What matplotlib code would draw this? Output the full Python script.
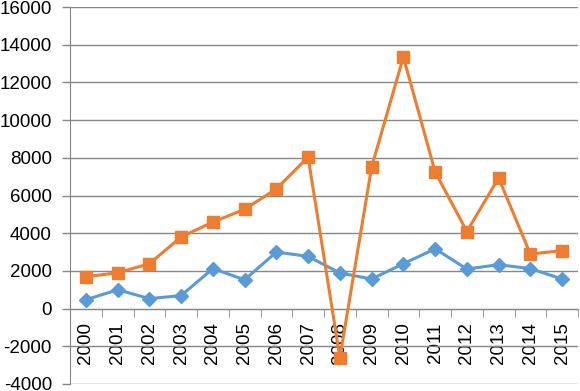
import matplotlib.pyplot as plt

# Datos
anios = [str(a) for a in range(2000, 2016)]
serie_azul = [470, 1000, 530, 690, 2120, 1530, 3000, 2770, 1890, 1570, 2380, 3170, 2100, 2330, 2120, 1570]
serie_naranja = [1690, 1900, 2380, 3800, 4590, 5270, 6350, 8040, -2600, 7510, 13350, 7250, 4090, 6930, 2890, 3080]
y_ticks = list(range(-4000, 16001, 2000))

AZUL = '#5B9BD5'
NARANJA = '#ED7D31'
GRIS = '#878787'

plt.rcParams['font.family'] = ['Liberation Sans', 'DejaVu Sans']

fig = plt.figure(figsize=(5.8, 3.91), dpi=100)
ax = fig.add_axes([70 / 580, 7 / 391, 508 / 580, 377 / 391])

x = list(range(len(anios)))
ax.plot(x, serie_azul, color=AZUL, lw=2.2, marker='D', ms=7, zorder=3)
ax.plot(x, serie_naranja, color=NARANJA, lw=2.2, marker='s', ms=8.5, zorder=4)

ax.set_xlim(-0.5, len(anios) - 0.5)
ax.set_ylim(-4000, 16000)
ax.set_yticks(y_ticks)
ax.set_yticklabels([str(v) for v in y_ticks], fontsize=13.5)
ax.tick_params(axis='y', length=6, color=GRIS, width=1, pad=7)
ax.yaxis.grid(True, color=GRIS, lw=1)
ax.set_axisbelow(True)

# eje de categorias en y = 0
ax.spines['bottom'].set_position(('data', 0))
ax.spines['bottom'].set_color(GRIS)
ax.spines['left'].set_color(GRIS)
ax.spines['top'].set_visible(False)
ax.spines['right'].set_visible(False)
ax.set_xticks(x)
ax.set_xticklabels(anios, rotation=90, fontsize=13.5)
ax.tick_params(axis='x', which='major', length=0, pad=10)
ax.set_xticks([i - 0.5 for i in range(len(anios) + 1)], minor=True)
ax.tick_params(axis='x', which='minor', length=6, color=GRIS, direction='out')

fig.savefig('out.png', dpi=100)
